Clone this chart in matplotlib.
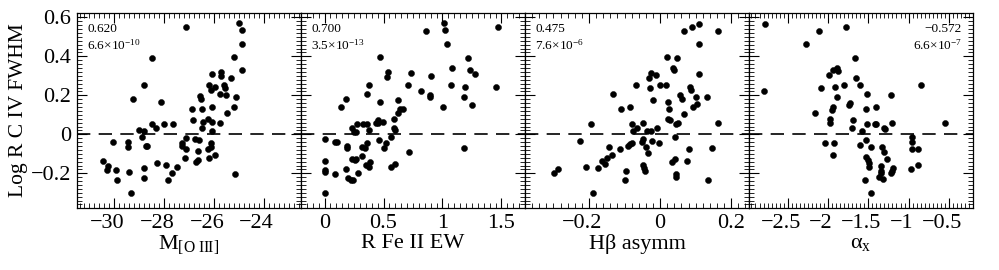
import matplotlib
matplotlib.use('Agg')
import matplotlib.pyplot as plt
import matplotlib.transforms as mtransforms
from matplotlib.ticker import MultipleLocator, FuncFormatter

plt.rcParams['font.family'] = ['Liberation Serif', 'DejaVu Serif']
plt.rcParams['mathtext.fontset'] = 'custom'
plt.rcParams['mathtext.rm'] = 'Liberation Serif'
plt.rcParams['mathtext.it'] = 'Liberation Serif:italic'
plt.rcParams['mathtext.bf'] = 'Liberation Serif:bold'

# panel 1: M[O III] vs Log R C IV FWHM
m_oiii = [-27.13, -25.01, -24.88, -24.88, -25.19, -24.88, -28.47, -28.79, -29.27, -28.12,
          -26.08, -25.71, -25.71, -25.33, -26.21, -26.13, -25.97, -25.60, -25.57, -25.77,
          -25.53, -25.11, -26.57, -26.53, -25.47, -25.20, -26.08, -26.88, -26.48, -26.84,
          -26.44, -26.25, -25.77, -26.09, -26.47, -26.08, -28.47, -27.99, -27.63, -28.31,
          -29.01, -28.80, -28.87, -27.11, -26.77, -26.60, -26.12, -27.29, -27.27, -27.11,
          -26.63, -26.25, -26.11, -26.20, -25.97, -26.71, -26.65, -27.15, -25.17, -30.44,
          -30.31, -30.27, -30.07, -29.95, -29.88, -29.44, -29.44, -29.41, -29.35, -28.80,
          -28.79, -28.68, -28.72, -28.27, -27.91, -27.84, -27.67, -27.48]
logr_m = [0.552, 0.569, 0.533, 0.463, 0.395, 0.330, 0.390, 0.255, 0.181, 0.168,
          0.309, 0.321, 0.299, 0.291, 0.253, 0.227, 0.241, 0.251, 0.239, 0.205,
          0.203, 0.193, 0.197, 0.179, 0.108, 0.142, 0.142, 0.128, 0.128, 0.074,
          0.065, 0.079, 0.060, 0.065, 0.034, 0.019, 0.053, 0.053, 0.053, 0.031,
          0.022, 0.017, -0.012, -0.021, -0.026, -0.029, -0.046, -0.043, -0.058, -0.075,
          -0.084, -0.075, -0.067, -0.121, -0.106, -0.144, -0.132, -0.121, -0.203, -0.135,
          -0.183, -0.162, -0.039, -0.181, -0.234, -0.038, -0.067, -0.191, -0.303, -0.174,
          -0.222, -0.062, -0.060, -0.149, -0.157, -0.234, -0.200, -0.169]

# panel 2: R Fe II EW
r_feii = [1.011, 1.023, 0.861, 1.473, 1.042, 0.470, 1.215, 1.079, 1.232, 1.272,
          0.731, 0.901, 0.538, 0.530, 0.374, 0.711, 1.071, 1.190, 1.453, 0.819,
          0.892, 0.892, 0.357, 0.181, 0.139, 0.470, 0.626, 1.181, 1.249, 1.008,
          0.666, 0.643, 0.620, 0.589, 0.450, 0.433, 0.456, 0.360, 0.323, 0.275,
          0.235, 0.246, 0.263, 0.380, 0.589, 0.598, 0.496, 0.567, 0.459, 0.000,
          0.088, 0.105, 0.187, 0.193, 0.360, 0.340, 0.314, 0.521, 0.507, 0.720,
          1.181, 0.320, 0.235, 0.255, 0.263, 0.000, 0.000, 0.000, 0.088, 0.184,
          0.286, 0.348, 0.382, 0.374, 0.561, 0.598, 0.201, 0.224, 0.241, 0.000]
logr_fe = [0.569, 0.533, 0.532, 0.552, 0.463, 0.395, 0.390, 0.338, 0.330, 0.309,
           0.313, 0.301, 0.320, 0.292, 0.253, 0.253, 0.253, 0.241, 0.241, 0.224,
           0.202, 0.193, 0.205, 0.179, 0.142, 0.166, 0.176, 0.193, 0.152, 0.140,
           0.128, 0.128, 0.108, 0.079, 0.074, 0.060, 0.060, 0.053, 0.053, 0.053,
           0.032, 0.014, 0.010, 0.022, 0.031, 0.022, 0.062, -0.012, -0.031, -0.024,
           -0.038, -0.041, -0.058, -0.072, -0.046, -0.068, -0.065, -0.043, -0.068, -0.089,
           -0.072, -0.111, -0.125, -0.132, -0.128, -0.135, -0.183, -0.191, -0.205, -0.178,
           -0.200, -0.157, -0.144, -0.169, -0.166, -0.154, -0.226, -0.234, -0.234, -0.303]

# panel 3: H-beta asymmetry
hb_asymm = [0.110, 0.089, 0.066, 0.164, 0.110, 0.020, 0.048, 0.108, 0.036, 0.040,
            -0.027, -0.031, -0.012, -0.067, 0.001, 0.016, -0.028, 0.056, 0.084, 0.086,
            0.131, 0.100, 0.023, -0.021, 0.061, -0.133, -0.110, -0.085, 0.024, 0.093,
            0.105, 0.066, 0.022, 0.028, 0.045, 0.049, -0.079, -0.048, -0.064, -0.076,
            -0.037, -0.025, -0.010, 0.164, -0.195, -0.226, -0.113, -0.145, -0.134, -0.149,
            -0.154, -0.164, -0.176, -0.209, -0.084, -0.091, -0.080, -0.051, -0.049, -0.040,
            -0.022, -0.004, -0.034, 0.042, 0.080, 0.147, 0.042, 0.034, 0.075, 0.046,
            0.044, -0.047, -0.044, -0.042, -0.096, -0.098, -0.299, -0.288, -0.190, 0.134]
logr_hb = [0.568, 0.552, 0.532, 0.532, 0.463, 0.395, 0.390, 0.309, 0.342, 0.330,
           0.316, 0.291, 0.303, 0.253, 0.253, 0.253, 0.239, 0.203, 0.241, 0.227,
           0.193, 0.193, 0.168, 0.176, 0.181, 0.205, 0.128, 0.142, 0.128, 0.140,
           0.154, 0.104, 0.079, 0.074, 0.051, 0.056, 0.053, 0.060, 0.031, 0.019,
           0.019, 0.019, 0.031, 0.058, 0.053, -0.036, -0.075, -0.063, -0.108, -0.121,
           -0.152, -0.135, -0.174, -0.166, -0.050, -0.060, -0.046, -0.038, -0.022, -0.063,
           -0.032, -0.043, -0.094, -0.012, -0.077, -0.072, -0.125, -0.144, -0.135, -0.202,
           -0.221, -0.157, -0.174, -0.188, -0.188, -0.234, -0.200, -0.179, -0.303, -0.234]

# panel 4: alpha_x
alpha_x = [-2.779, -2.107, -1.775, -2.275, -1.668, -1.889, -1.881, -1.934, -1.988, -1.656,
           -1.607, -1.803, -1.910, -2.086, -0.844, -1.893, -1.520, -1.217, -1.730, -1.742,
           -1.398, -1.939, -1.955, -1.529, -2.156, -1.975, -1.971, -1.689, -1.697, -1.418,
           -1.402, -1.516, -1.311, -1.291, -1.574, -1.209, -0.545, -2.795, -2.033, -1.930,
           -1.607, -1.533, -1.471, -0.963, -0.955, -0.959, -0.889, -1.324, -1.311, -1.266,
           -1.939, -1.525, -1.508, -1.496, -1.492, -1.340, -1.348, -1.344, -1.197, -1.205,
           -1.217, -0.889, -0.975, -1.365, -1.320, -1.537, -1.463]
logr_ax = [0.568, 0.532, 0.552, 0.463, 0.390, 0.338, 0.326, 0.330, 0.303, 0.291,
           0.253, 0.253, 0.241, 0.239, 0.253, 0.193, 0.205, 0.202, 0.162, 0.152,
           0.142, 0.138, 0.125, 0.128, 0.108, 0.080, 0.060, 0.074, 0.031, 0.053,
           0.053, 0.053, 0.034, 0.026, 0.017, 0.056, 0.056, 0.224, -0.043, -0.046,
           -0.056, -0.031, -0.063, -0.012, -0.038, -0.074, -0.077, -0.063, -0.089, -0.128,
           -0.106, -0.118, -0.132, -0.149, -0.166, -0.162, -0.186, -0.200, -0.174, -0.186,
           -0.200, -0.157, -0.179, -0.221, -0.231, -0.234, -0.303]

xlabels = [r'M$_{\mathrm{[O\ III]}}$', 'R Fe II EW', 'H\u03b2 asymm', '\u03b1$_{\mathrm{x}}$']
rho_text = ['0.620', '0.700', '0.475', '\u22120.572']
prob_text = [r'6.6$\times$10$^{-10}$', r'3.5$\times$10$^{-13}$',
             r'7.6$\times$10$^{-6}$', r'6.6$\times$10$^{-7}$']

xs = [m_oiii, r_feii, hb_asymm, alpha_x]
ys = [logr_m, logr_fe, logr_hb, logr_ax]
xlims = [(-31.5, -22.5), (-0.2, 1.7), (-0.38, 0.25), (-2.98, -0.2)]
majors = [2, 0.5, 0.2, 0.5]


def fmt(v, pos):
    v = round(v, 6) + 0.0
    return ('%g' % v).replace('-', '\u2212')


fig = plt.figure(figsize=(9.99, 2.70), dpi=100)
left, right, bottom, top = 0.0771, 0.974, 0.2296, 0.9537
w = (right - left) / 4
axes = []
for i in range(4):
    ax = fig.add_axes([left + i * w, bottom, w, top - bottom])
    axes.append(ax)
    ax.plot(xs[i], ys[i], 'o', ms=4.4, color='k', mec='k', mew=0.3)
    ax.axhline(0, color='k', lw=1.2, ls=(0, (8, 5)))
    ax.set_xlim(xlims[i])
    ax.set_ylim(-0.378, 0.625)
    ax.xaxis.set_major_locator(MultipleLocator(majors[i]))
    ax.xaxis.set_minor_locator(MultipleLocator(majors[i] / 10))
    ax.yaxis.set_major_locator(MultipleLocator(0.2))
    ax.yaxis.set_minor_locator(MultipleLocator(0.02))
    ax.xaxis.set_major_formatter(FuncFormatter(fmt))
    ax.yaxis.set_major_formatter(FuncFormatter(fmt))
    ax.tick_params(which='both', direction='in', top=True, right=True, labelsize=16, pad=4)
    ax.tick_params(which='major', length=7, width=0.8)
    ax.tick_params(which='minor', length=3.5, width=0.6)
    for s in ax.spines.values():
        s.set_linewidth(0.9)
    if i > 0:
        ax.tick_params(labelleft=False)
    ax.set_xlabel(xlabels[i], fontsize=16, labelpad=1)
    if i < 3:
        ax.text(0.045, 0.916, rho_text[i], transform=ax.transAxes, fontsize=9.5, va='center')
        ax.text(0.045, 0.834, prob_text[i], transform=ax.transAxes, fontsize=9.5, va='center')
    else:
        ax.text(0.95, 0.916, rho_text[i], transform=ax.transAxes, fontsize=9.5, va='center', ha='right')
        ax.text(0.95, 0.834, prob_text[i], transform=ax.transAxes, fontsize=9.5, va='center', ha='right')

axes[0].set_ylabel('Log R C IV FWHM', fontsize=15.5, labelpad=2)

# center the digits of negative x tick labels on their ticks
fig.canvas.draw()
shift = mtransforms.ScaledTranslation(-5 / 72, 0, fig.dpi_scale_trans)
for ax in axes:
    for lab in ax.get_xticklabels():
        if lab.get_text().startswith('\u2212'):
            lab.set_transform(lab.get_transform() + shift)

fig.savefig('out.png', dpi=100)
